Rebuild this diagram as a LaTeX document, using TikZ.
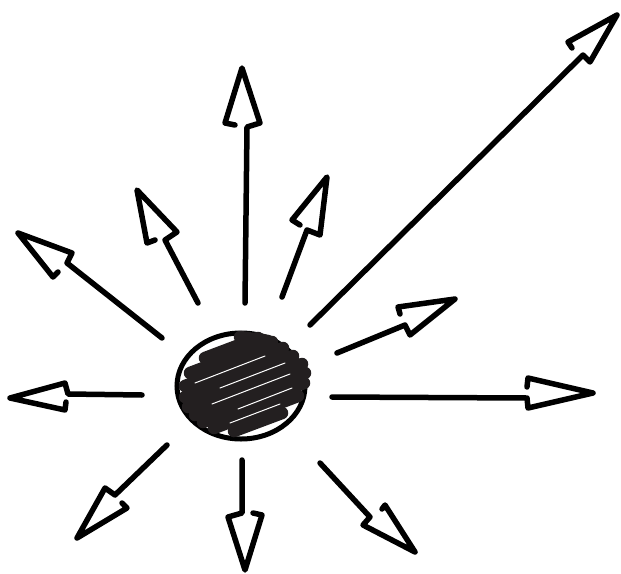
\documentclass[tikz,border=0pt]{standalone}
\definecolor{ink}{HTML}{231F20}
\tikzset{
  sk/.style={draw=black, line width=5.5pt, line cap=round, line join=round},
  hatch/.style={draw=ink, line width=12.5pt, line cap=round},
  sliver/.style={draw=white, line width=1pt, line cap=round},
  rim/.style={draw=black, line width=5pt}
}
\newcommand{\sketcharrow}[7]{%
  \coordinate (#1s) at (#2); \coordinate (#1e) at (#3); \coordinate (#1a) at (#4);
  \coordinate (#1t) at (#5); \coordinate (#1b) at (#6); \coordinate (#1h) at (#7);
  \draw[sk] (#1s) -- (#1e) -- (#1a) -- (#1t) -- (#1b) -- (#1h);}
\begin{document}
\begin{tikzpicture}[x=1pt,y=-1pt]
\useasboundingbox (0,0) rectangle (621,573);
% central blob
\coordinate (c) at (241,386);
\draw[rim] (c) ellipse [x radius=64, y radius=53];
\draw[hatch] (240,337) -- (268,341);
\draw[hatch] (205,358) -- (258,338);
\draw[hatch] (190,373) -- (272,342);
\draw[hatch] (185,386) -- (283,348);
\draw[hatch] (185,397) -- (293,356);
\draw[hatch] (188,407) -- (302,364);
\draw[hatch] (195,415) -- (305,373);
\draw[hatch] (203,422) -- (304,383);
\draw[hatch] (214,428) -- (298,396);
\draw[hatch] (234,431) -- (282,413);
\draw[sliver] (195,383) -- (265,356);
\draw[sliver] (220,388) -- (285,363);
\draw[sliver] (212,404) -- (290,374);
\draw[sliver] (238,409) -- (292,388);
\draw[sliver] (230,423) -- (280,404);
% arrows
\sketcharrow{w}{142,395}{68,394}{65,383}{10,398}{65,410}{66,402}
\sketcharrow{sw}{167,445}{115,495}{105,488}{77,538}{127,508}{122,503}
\sketcharrow{s}{242,460}{242,513}{228,517}{245,570}{262,515}{253,513}
\sketcharrow{se}{320,463}{370,517}{363,525}{415,552}{385,505}{382,509}
\sketcharrow{e}{332,397}{527,398}{528,408}{593,393}{528,378}{527,387}
\sketcharrow{ene}{337,353}{405,325}{410,335}{455,299}{398,307}{400,314}
\sketcharrow{ne}{310,325}{583,55}{590,62}{617,15}{568,42}{572,48}
\sketcharrow{nne}{282,297}{307,230}{320,235}{327,177}{292,220}{300,225}
\sketcharrow{n}{245,303}{247,127}{260,123}{242,68}{225,123}{235,125}
\sketcharrow{nnw}{198,303}{165,240}{177,232}{137,190}{147,243}{155,240}
\sketcharrow{nw}{162,338}{67,263}{72,253}{18,233}{53,277}{58,272}
\end{tikzpicture}
\end{document}
